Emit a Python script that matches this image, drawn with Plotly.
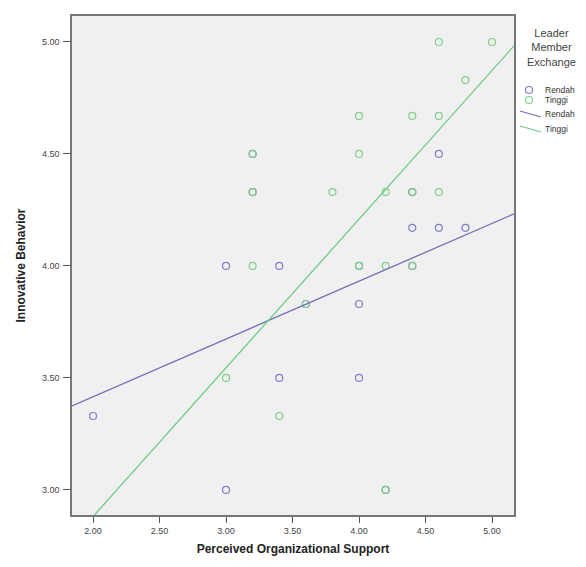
import plotly.graph_objects as go

# Data: Perceived Organizational Support (x) vs Innovative Behavior (y)
rendah_x = [2.00, 3.00, 3.00, 3.40, 3.40, 3.20, 3.20, 3.60, 4.00, 4.00, 4.20, 4.00, 4.40, 4.40, 4.60, 4.80, 4.60, 4.40]
rendah_y = [3.33, 4.00, 3.00, 4.00, 3.50, 4.50, 4.33, 3.83, 3.83, 3.50, 3.00, 4.00, 4.00, 4.17, 4.17, 4.17, 4.50, 4.33]

tinggi_x = [3.00, 3.40, 3.20, 3.20, 3.20, 3.60, 3.80, 4.00, 4.00, 4.00, 4.20, 4.20, 4.40, 4.40, 4.60, 4.60, 4.80, 4.60, 5.00, 4.40, 4.20]
tinggi_y = [3.50, 3.33, 4.00, 4.50, 4.33, 3.83, 4.33, 4.00, 4.50, 4.67, 4.00, 4.33, 4.33, 4.67, 4.33, 4.67, 4.83, 5.00, 5.00, 4.00, 3.00]

# Fit line coefficients (intercept, slope)
groups = ["Rendah", "Tinggi"]
fit_intercept = [2.90, 1.553]
fit_slope = [0.258, 0.664]

x_ticks = [2.0, 2.5, 3.0, 3.5, 4.0, 4.5, 5.0]
y_ticks = [3.0, 3.5, 4.0, 4.5, 5.0]
x_range = [1.842, 5.165]
y_range = [2.888, 5.116]

blue = "#7f7fc8"
green = "#7fcf8a"
line_blue = "#7070b8"
line_green = "#70cc88"

# page body has an 8px margin; size the figure so the plot lands where the reference has it
OFF = 8
W, H = 586 - OFF, 567 - OFF
ML, MR, MT, MB = 72 - OFF, 72, 16 - OFF, 52
PW, PH = W - ML - MR, H - MT - MB


def px(xa):
    # absolute page pixel -> paper coordinate
    return (xa - OFF - ML) / PW


def py(ya):
    return (H - MB - (ya - OFF)) / PH


fig = go.Figure()
fig.add_trace(go.Scatter(x=rendah_x, y=rendah_y, mode="markers", name="Rendah", showlegend=False,
                         marker=dict(symbol="circle-open", size=7, color=blue, line=dict(width=1.2))))
fig.add_trace(go.Scatter(x=tinggi_x, y=tinggi_y, mode="markers", name="Tinggi", showlegend=False,
                         marker=dict(symbol="circle-open", size=7, color=green, line=dict(width=1.2))))
for g, b0, b1, c in zip(groups, fit_intercept, fit_slope, [line_blue, line_green]):
    xs = x_range
    ys = [b0 + b1 * v for v in xs]
    fig.add_trace(go.Scatter(x=xs, y=ys, mode="lines", name=g, showlegend=False,
                             line=dict(color=c, width=1.3)))

# custom legend (layout only)
shapes = []
annotations = []
annotations.append(dict(text="Leader<br>Member<br>Exchange", xref="paper", yref="paper",
                        x=px(551), y=py(25), xanchor="center", yanchor="top", showarrow=False,
                        align="center", font=dict(size=11, color="#444444")))
legend_items = [("marker", "Rendah", blue, 90), ("marker", "Tinggi", green, 100),
                ("line", "Rendah", line_blue, 114), ("line", "Tinggi", line_green, 129)]
for kind, label, col, yy in legend_items:
    if kind == "marker":
        shapes.append(dict(type="circle", xref="paper", yref="paper", xsizemode="pixel", ysizemode="pixel",
                           xanchor=px(529), yanchor=py(yy), x0=-3.5, x1=3.5, y0=-3.5, y1=3.5,
                           line=dict(color=col, width=1.2)))
    else:
        shapes.append(dict(type="line", xref="paper", yref="paper",
                           x0=px(520), y0=py(yy - 3), x1=px(541), y1=py(yy + 3),
                           line=dict(color=col, width=1.2)))
    annotations.append(dict(text=label, xref="paper", yref="paper", x=px(543), y=py(yy),
                            xanchor="left", yanchor="middle", showarrow=False,
                            font=dict(size=8.5, color="#333333")))

fig.update_layout(
    width=W, height=H,
    margin=dict(l=ML, r=MR, t=MT, b=MB, autoexpand=False),
    paper_bgcolor="white",
    plot_bgcolor="#f0f0f0",
    font=dict(family="Liberation Sans, Arial, sans-serif", color="#333333", size=9),
    showlegend=False,
    shapes=shapes,
    annotations=annotations,
    xaxis=dict(
        range=x_range, tickvals=x_ticks, ticktext=[f"{v:.2f}" for v in x_ticks],
        ticks="outside", ticklen=6, tickcolor="#555555", showgrid=False, zeroline=False,
        showline=True, linecolor="#777777", linewidth=1.5, mirror=True,
        title=dict(text="<b>Perceived Organizational Support</b>", font=dict(size=12, color="#222222"), standoff=10),
        tickfont=dict(size=9, color="#444444"),
    ),
    yaxis=dict(
        range=y_range, tickvals=y_ticks, ticktext=[f"{v:.2f}" for v in y_ticks],
        ticks="outside", ticklen=7, tickcolor="#555555", showgrid=False, zeroline=False,
        showline=True, linecolor="#777777", linewidth=1.5, mirror=True,
        ticklabelstandoff=2,
        title=dict(text="<b>Innovative Behavior</b>", font=dict(size=12, color="#222222"), standoff=14),
        tickfont=dict(size=9, color="#444444"),
    ),
)

fig.write_html("out.html")
